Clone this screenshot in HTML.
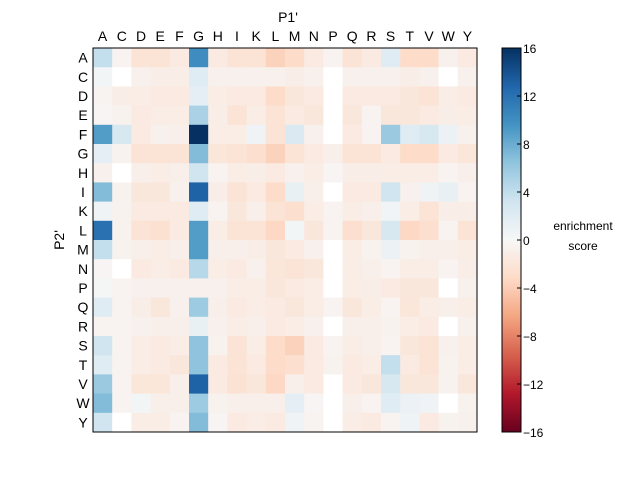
<!DOCTYPE html>
<html><head><meta charset="utf-8"><style>
html,body{margin:0;padding:0;background:#fff;}
svg text{font-family:"Liberation Sans",sans-serif;fill:#000;}
</style></head><body>
<svg id="s" width="640" height="480" xmlns="http://www.w3.org/2000/svg">
<defs><linearGradient id="cb" x1="0" y1="1" x2="0" y2="0">
<stop offset="0" stop-color="#67001f"/><stop offset="0.1" stop-color="#b2182b"/><stop offset="0.2" stop-color="#d6604d"/><stop offset="0.3" stop-color="#f4a582"/><stop offset="0.4" stop-color="#fddbc7"/><stop offset="0.5" stop-color="#f7f7f7"/><stop offset="0.6" stop-color="#d1e5f0"/><stop offset="0.7" stop-color="#92c5de"/><stop offset="0.8" stop-color="#4393c3"/><stop offset="0.9" stop-color="#2166ac"/><stop offset="1" stop-color="#053061"/>
</linearGradient></defs>
<g id="cells"></g>
<rect x="93" y="48" width="384" height="384" fill="none" stroke="#000" stroke-width="1"/>
<text x="288" y="22" font-size="14" text-anchor="middle">P1'</text>
<text x="64" y="240" font-size="14" text-anchor="middle" transform="rotate(-90 64 240)">P2'</text>
<g id="lab"></g>
<rect x="502" y="48" width="19" height="384" fill="url(#cb)" stroke="#000" stroke-width="1"/>
<g id="cbt"></g>
<text x="583" y="230" font-size="12" text-anchor="middle">enrichment</text>
<text x="583" y="250" font-size="12" text-anchor="middle">score</text>
</svg>
<script>
var aa="ACDEFGHIKLMNPQRSTVWY".split("");
var N=null;
var d=[
[3,-0.3,-1.5,-1.5,-1,10,-1,-1.5,-1.5,-2.5,-2,-1,-0.3,-1.5,-1,1.5,-2,-2,-0.5,-1],
[0.3,N,-0.5,-0.7,-0.7,1.5,-0.5,-0.5,-0.5,-0.5,-0.7,-0.5,N,-0.5,-0.5,-0.5,-0.7,-0.5,N,-0.5],
[-0.3,-0.7,-0.8,-1,-1,1.2,-0.8,-1,-1,-2,-1.2,-1,N,-1,-1,-1,-1.2,-1.5,-0.8,-1],
[-0.2,-0.4,-1,-0.8,-0.8,4,-0.7,-1.5,-0.8,-1.5,-1,-1.2,N,-1.2,-0.3,-1.2,-1.2,-1,-0.7,-0.8],
[9,2,-1,-0.5,-0.6,16,-0.8,-0.8,0.5,-1.5,1.8,-0.5,N,-1,-0.3,6,1.5,2,0.8,-0.5],
[1.2,-0.4,-1.5,-1.5,-1.5,7,-1.3,-1.5,-1.8,-2.5,-1.5,-1,-0.6,-1.5,-1.5,-1,-2,-2,-1,-1.3],
[-0.5,N,-0.6,-0.8,-0.6,2.5,-0.3,-0.8,-0.7,-1,-0.5,-0.8,-0.2,-0.7,-0.7,-0.8,-0.8,-0.8,-0.3,-0.6],
[7,-0.4,-1.2,-1.2,-0.5,13,-0.7,-1.5,-1,-2,1,-0.6,N,-1,-1,2.5,-0.5,0.5,1,-0.3],
[0.5,-0.4,-1,-1,-1,1.5,-0.3,-1.2,-0.6,-1.5,-1.8,-0.8,-0.3,-0.8,-0.6,0.4,-0.8,-1.5,-0.7,-0.7],
[12,-0.4,-1.5,-1.7,-1,9,-0.8,-1.5,-1.5,-2.2,0.3,-1.2,-0.3,-1.8,-1.2,2,-2.2,-1.8,-0.3,-1.5],
[3,-0.4,-0.6,-0.8,-0.6,9,-0.6,-0.6,-0.7,-1.2,-1,-0.5,N,-0.8,-0.4,0.8,-0.4,-0.6,-0.6,-0.8],
[-0.2,N,-1,-0.8,-1,3.5,-0.8,-1,-0.5,-1.3,-1.5,-1.2,N,-0.8,-0.6,-0.3,-0.8,-0.8,-0.3,-0.7],
[0.2,-0.3,-0.5,-0.5,-0.5,-0.5,-0.5,-0.8,-0.8,-1.2,-1,-0.8,N,-0.8,-0.7,-1,-1.2,-1.2,N,-0.5],
[1.5,-0.3,-0.7,-1.2,-0.5,4.5,-0.6,-1,-0.8,-1,-1.2,-0.8,-0.3,-1.2,-0.8,-0.3,-1.3,-0.8,-0.6,-0.8],
[-0.3,-0.3,-0.5,-0.6,-0.6,1,-0.5,-0.8,-0.6,-1,-0.8,-0.5,N,-0.6,-0.6,-0.4,-0.8,-1,N,-0.5],
[2.5,-0.3,-0.8,-1,-0.8,5,-0.4,-1.5,-0.8,-2,-2.5,-1,-0.3,-0.8,-0.6,-0.3,-1.2,-1.5,-0.5,-0.8],
[1.5,-0.3,-0.8,-1,-1.2,5,-1,-1.5,-1,-2,-1.8,-1,-0.4,-1,-0.8,3,-1,-1.5,-0.4,-0.8],
[6,-0.3,-1.3,-1.3,-0.6,13,-1,-1.6,-1.2,-2.2,-0.6,-1,N,-1,-1.2,2,-1.2,-1.2,-0.4,-1.2],
[7,-0.3,0.3,-0.6,-0.6,4.5,-0.4,-0.6,-0.6,-0.6,1.2,-0.2,N,-0.6,-0.3,1.5,0.8,0.5,N,-0.4],
[2.5,N,-0.8,-0.8,-0.3,7,-0.2,-1,-0.8,-1,0.5,-0.3,N,-0.8,-1,-0.3,0.6,-1,-0.4,-0.5]];
var cs=["#67001f","#b2182b","#d6604d","#f4a582","#fddbc7","#f7f7f7","#d1e5f0","#92c5de","#4393c3","#2166ac","#053061"];
function hx(h){return [1,3,5].map(function(i){return parseInt(h.substr(i,2),16);});}
function col(v){var t=(v+16)/32*10;if(t<0)t=0;if(t>10)t=10;var i=Math.min(9,Math.floor(t)),f=t-i;var a=hx(cs[i]),b=hx(cs[i+1]);
return "rgb("+a.map(function(x,k){return Math.round(x+(b[k]-x)*f);}).join(",")+")";}
var ns="http://www.w3.org/2000/svg",g=document.getElementById("cells"),L=document.getElementById("lab"),C=document.getElementById("cbt");
function el(p,t,a,txt){var e=document.createElementNS(ns,t);for(var k in a)e.setAttribute(k,a[k]);if(txt!=null)e.textContent=txt;p.appendChild(e);}
var w=19.2;
for(var r=0;r<20;r++)for(var c=0;c<20;c++){var v=d[r][c];
if(v!==null){v=v<0?v*1.5:(v<6?v*1.3:v);}
el(g,"rect",{x:93+c*w,y:48+r*w,width:w+0.4,height:w+0.4,fill:v===null?"#ffffff":col(v)});}
for(var i=0;i<20;i++){
el(L,"text",{x:93+(i+0.5)*w,y:41,"font-size":14,"text-anchor":"middle"},aa[i]);
el(L,"text",{x:83,y:48+(i+0.5)*w+5,"font-size":14,"text-anchor":"middle"},aa[i]);}
for(var v=-16;v<=16;v+=4){var y=48+(16-v)*12;
el(C,"line",{x1:517,x2:521,y1:y,y2:y,stroke:"#000","stroke-width":1});
el(C,"text",{x:523,y:y+5,"font-size":12},v<0?"\u2212"+(-v):""+v);}
</script>
</body></html>
